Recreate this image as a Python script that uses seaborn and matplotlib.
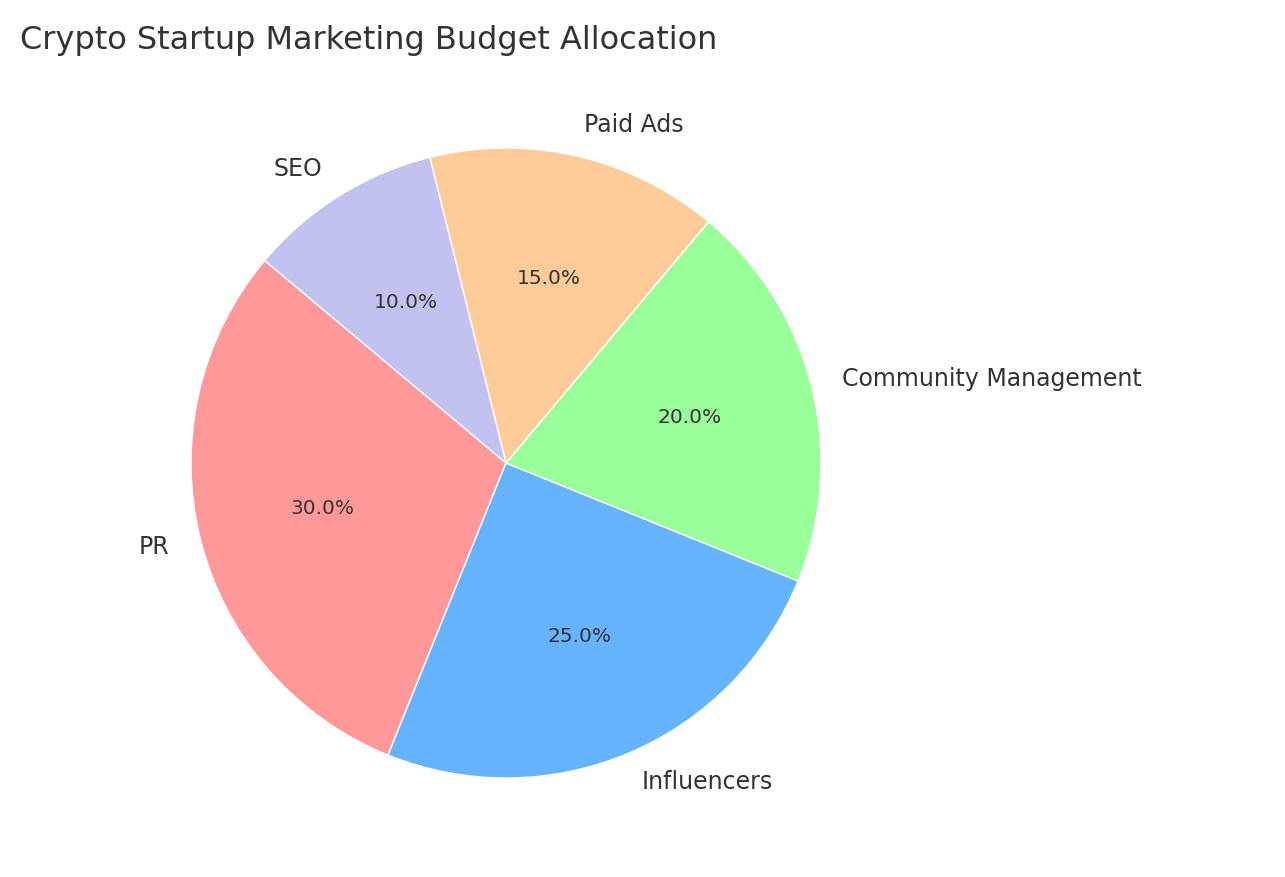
import matplotlib

matplotlib.use("Agg")
import matplotlib.pyplot as plt
import seaborn as sns

categories = ["PR", "Influencers", "Community Management", "Paid Ads", "SEO"]
shares = [30, 25, 20, 15, 10]
colors = ["#ff9999", "#66b3ff", "#99ff99", "#ffcc99", "#c2c2f0"]

sns.set_theme(style="white")
plt.rcParams["font.family"] = ["DejaVu Sans"]
plt.rcParams["text.color"] = "#333333"

W, H = 1285, 877
fig = plt.figure(figsize=(W / 100, H / 100), dpi=100)
cx, cy, r = 506, 463, 315
ax = fig.add_axes([(cx - r) / W, (H - cy - r) / H, 2 * r / W, 2 * r / H])
ax.pie(shares, labels=categories, colors=colors, autopct="%1.1f%%", startangle=140,
       textprops={"fontsize": 17, "color": "#333333"})
for t in ax.texts:
    if t.get_text().endswith("%"):
        t.set_fontsize(14.5)
ax.set_xlim(-1, 1)
ax.set_ylim(-1, 1)
ax.set_aspect("equal")
fig.text(20 / W, 1 - 40 / H, "Crypto Startup Marketing Budget Allocation",
         fontsize=23, va="center", ha="left", color="#333333")
fig.savefig("out.png", dpi=100)
